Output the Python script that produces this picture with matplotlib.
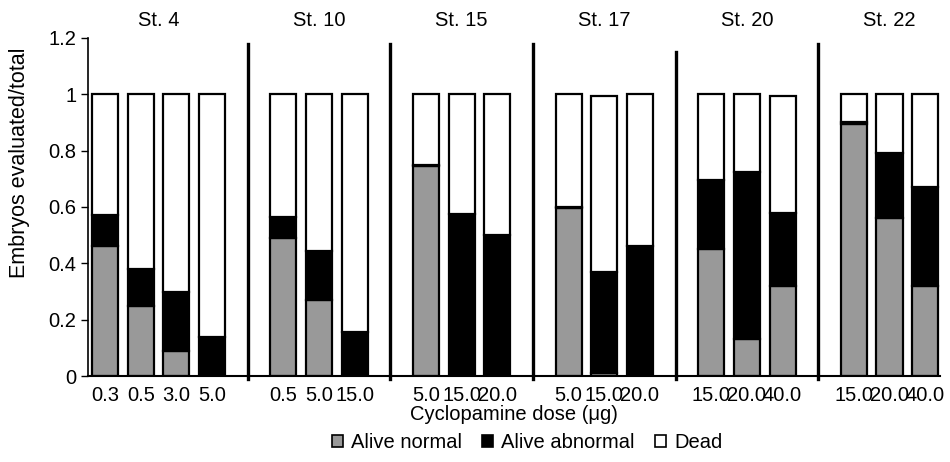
import matplotlib.pyplot as plt
from matplotlib.patches import Patch

plt.rcParams["font.family"] = ["Liberation Sans", "DejaVu Sans"]

stages = ["St. 4", "St. 10", "St. 15", "St. 17", "St. 20", "St. 22"]
doses = [
    ["0.3", "0.5", "3.0", "5.0"],
    ["0.5", "5.0", "15.0"],
    ["5.0", "15.0", "20.0"],
    ["5.0", "15.0", "20.0"],
    ["15.0", "20.0", "40.0"],
    ["15.0", "20.0", "40.0"],
]
alive_normal = [
    [0.46, 0.25, 0.09, 0.0],
    [0.49, 0.27, 0.0],
    [0.745, 0.0, 0.0],
    [0.595, 0.01, 0.0],
    [0.45, 0.13, 0.32],
    [0.895, 0.56, 0.32],
]
alive_abnormal = [
    [0.11, 0.13, 0.21, 0.14],
    [0.075, 0.175, 0.155],
    [0.005, 0.575, 0.50],
    [0.005, 0.36, 0.46],
    [0.245, 0.595, 0.26],
    [0.005, 0.23, 0.35],
]
dead = [
    [0.43, 0.62, 0.70, 0.86],
    [0.435, 0.555, 0.845],
    [0.25, 0.425, 0.50],
    [0.40, 0.625, 0.54],
    [0.305, 0.275, 0.415],
    [0.10, 0.21, 0.33],
]
sep_heights = [1.18, 1.18, 1.18, 1.15, 1.18]

fig = plt.figure(figsize=(9.5, 4.62), dpi=100)
ax = fig.add_axes([0.0926, 0.186, 0.897, 0.732])

gray = "#999999"
fs = 14.5
pos = 0
xticks, xlabels = [], []
group_centers, seps = [], []
for g in range(len(stages)):
    xs = list(range(pos, pos + len(doses[g])))
    n = alive_normal[g]
    a = alive_abnormal[g]
    d = dead[g]
    b2 = [n[i] + a[i] for i in range(len(n))]
    ax.bar(xs, n, width=0.73, color=gray, edgecolor="black", linewidth=1.6)
    ax.bar(xs, a, bottom=n, width=0.73, color="black", edgecolor="black", linewidth=1.6)
    ax.bar(xs, d, bottom=b2, width=0.73, color="white", edgecolor="black", linewidth=1.6)
    xticks += xs
    xlabels += doses[g]
    group_centers.append((xs[0] + xs[-1]) / 2)
    pos = xs[-1] + 1
    if g < len(stages) - 1:
        seps.append(pos)
        pos += 1

for s, h in zip(seps, sep_heights):
    ax.plot([s, s], [-0.01, h], color="black", linewidth=2.4, clip_on=False)

for c, name in zip(group_centers, stages):
    ax.text(c, 1.262, name, ha="center", va="center", fontsize=fs)

ax.set_xlim(-0.48, 23.42)
ax.set_ylim(0, 1.2)
ax.set_xticks(xticks)
ax.set_xticklabels(xlabels, fontsize=fs)
ax.tick_params(axis="x", length=0, pad=7)
ax.set_yticks([0, 0.2, 0.4, 0.6, 0.8, 1.0, 1.2])
ax.set_yticklabels(["0", "0.2", "0.4", "0.6", "0.8", "1", "1.2"], fontsize=fs)
ax.tick_params(axis="y", length=5, width=1, direction="out")
for side in ["top", "right"]:
    ax.spines[side].set_visible(False)
ax.spines["left"].set_linewidth(1.2)
ax.spines["bottom"].set_linewidth(1.5)

ax.set_xlabel("Cyclopamine dose (\u03bcg)", fontsize=fs, labelpad=0)
ax.set_ylabel("Embryos evaluated/total", fontsize=15.5)
ax.yaxis.set_label_coords(-0.068, 0.63)

handles = [
    Patch(facecolor=gray, edgecolor="black", linewidth=1.2, label="Alive normal"),
    Patch(facecolor="black", edgecolor="black", linewidth=1.2, label="Alive abnormal"),
    Patch(facecolor="white", edgecolor="black", linewidth=1.2, label="Dead"),
]
fig.legend(handles=handles, loc="center", bbox_to_anchor=(0.555, 0.042), ncol=3,
           frameon=False, fontsize=fs, handlelength=0.55, handleheight=0.55,
           handletextpad=0.4, columnspacing=1.0)

plt.savefig("out.png", dpi=100)
plt.close()
